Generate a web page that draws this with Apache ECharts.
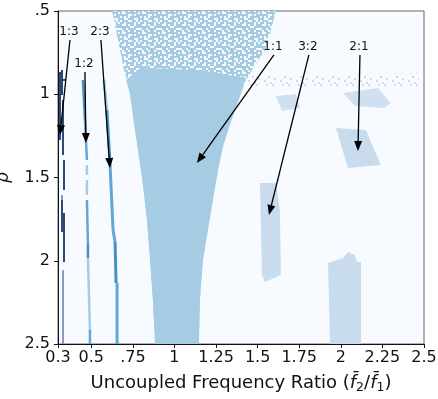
<!DOCTYPE html>
<html><head><meta charset="utf-8">
<script src="https://cdn.jsdelivr.net/npm/echarts@6/dist/echarts.min.js"></script>
<style>html,body{margin:0;padding:0;background:#fff}#c{width:438px;height:399px}</style>
</head><body><div id="c"></div>
<script>
// ---- axis ticks ----
const xTicks = [0.3, 0.5, 0.75, 1, 1.25, 1.5, 1.75, 2, 2.25, 2.5];
const xTickLabels = ['0.3', '0.5', '.75', '1', '1.25', '1.5', '1.75', '2', '2.25', '2.5'];
const yTicks = [0.5, 1, 1.5, 2, 2.5];
const yTickLabels = ['.5', '1', '1.5', '2', '2.5'];

// ---- regions [freq ratio, rho] ----
const tongueOuter = [[0.625,0.5],[0.661,0.674],[0.697,0.854],[0.733,0.998],[0.763,1.215],[0.805,1.497],[0.835,1.755],[0.853,1.995],[0.871,2.236],[0.883,2.5],
  [1.147,2.5],[1.153,2.236],[1.171,1.995],[1.201,1.815],[1.231,1.635],[1.262,1.455],[1.286,1.335],[1.322,1.215],[1.364,1.095],[1.424,0.926],[1.484,0.824],[1.544,0.734],[1.580,0.614],[1.610,0.5]];
const tongueSolid = [[0.709,0.914],[0.793,0.842],[1.153,0.854],[1.430,0.902],[1.364,1.095],[1.322,1.215],[1.286,1.335],[1.262,1.455],[1.231,1.635],[1.201,1.815],[1.171,1.995],[1.153,2.236],[1.147,2.5],
  [0.883,2.5],[0.871,2.236],[0.853,1.995],[0.835,1.755],[0.805,1.497],[0.763,1.215],[0.733,0.998]];
const resonanceBand = [[1.43,0.885],[2.47,0.875],[2.47,0.95],[1.43,0.96]];
const patch32 = [[1.514,1.533],[1.610,1.533],[1.634,1.695],[1.640,2.086],[1.544,2.128],[1.526,2.086],[1.520,1.815]];
const patch21 = [[1.971,1.203],[2.151,1.215],[2.241,1.425],[2.043,1.443]];
const patch21Upper = [[2.013,0.992],[2.223,0.962],[2.301,1.053],[2.259,1.083],[2.085,1.071]];
const patchSmall = [[1.610,1.011],[1.730,0.998],[1.754,1.083],[1.646,1.101]];
const patchBottom = [[1.923,2.014],[2.013,1.983],[2.043,1.947],[2.085,1.965],[2.097,2.008],[2.121,2.008],[2.121,2.5],[1.935,2.5]];

// ---- resonance line segments [x1, rho1, x2, rho2, shade] ----
const line13 = [[0.312,0.866,0.312,1.035,0],[0.324,0.854,0.324,1.005,0],[0.312,0.914,0.348,0.914,0],[0.312,1.035,0.312,1.275,0],
  [0.330,1.035,0.330,1.365,0],[0.336,1.395,0.336,1.575,0],[0.324,1.605,0.324,1.725,1],[0.324,1.635,0.324,1.827,0],
  [0.336,1.713,0.336,2.008,0],[0.330,2.056,0.330,2.5,1]];
const line12 = [[0.450,0.914,0.462,1.155,2],[0.462,1.155,0.474,1.395,3],[0.474,1.425,0.474,1.485,4],[0.474,1.515,0.474,1.605,4],
  [0.474,1.635,0.480,1.905,3],[0.480,1.905,0.480,1.983,2],[0.480,1.983,0.492,2.416,4],[0.492,2.416,0.492,2.5,3]];
const line23 = [[0.576,0.914,0.594,1.095,4],[0.594,1.095,0.613,1.425,2],[0.613,1.425,0.631,1.815,3],[0.631,1.815,0.643,1.887,3],
  [0.643,1.887,0.649,2.134,2],[0.655,2.134,0.655,2.5,3]];

// ---- annotations ----
const annLabels = ['1:3', '1:2', '2:3', '1:1', '3:2', '2:1'];
const annTextPos = [[0.366,0.626],[0.456,0.818],[0.552,0.626],[1.592,0.716],[1.802,0.716],[2.109,0.716]];
const annTipPos = [[0.312,1.245],[0.468,1.293],[0.612,1.443],[1.135,1.413],[1.568,1.725],[2.103,1.341]];

// ---- styling ----
const FONT = 'DejaVu Sans';
const shades = ['#2b4a7a', '#8a9cba', '#4a8fc4', '#62a6d3', '#a4cce4'];
const tongueColor = '#a6cce3';
const patchColor = '#c8dcee';
const bgColor = '#f7fbff';

function makePattern(mask, cell, fg, bg) {
  const rows = mask.length, cols = mask[0].length;
  const c = document.createElement('canvas');
  c.width = cols * cell; c.height = rows * cell;
  const g = c.getContext('2d');
  if (bg) { g.fillStyle = bg; g.fillRect(0, 0, c.width, c.height); }
  g.fillStyle = fg;
  for (let r = 0; r < rows; r++) for (let k = 0; k < cols; k++)
    if (mask[r][k] === '1') g.fillRect(k * cell, r * cell, cell, cell);
  return c;
}
const speckleCanvas = makePattern([
  '1000110010',
  '0010000101',
  '0110100100',
  '0000011000',
  '1001000011',
  '0100100100',
  '0110000001',
  '0000110100',
  '1010100000',
  '0011000110'], 2, bgColor, tongueColor);
const bandCanvas = makePattern(['10000100','00000000','00000010','01000000','00001000','00000001'], 2, '#cadcee', null);

const regionList = [
  {pts: tongueOuter, fill: {type: 'pattern', image: speckleCanvas, repeat: 'repeat'}},
  {pts: tongueSolid, fill: tongueColor},
  {pts: resonanceBand, fill: {type: 'pattern', image: bandCanvas, repeat: 'repeat'}},
  {pts: patch32, fill: patchColor},
  {pts: patch21, fill: patchColor},
  {pts: patch21Upper, fill: '#cfe0f0'},
  {pts: patchSmall, fill: '#cfe0f0'},
  {pts: patchBottom, fill: patchColor}
];

function lineSeries(data, width) {
  return {
    type: 'custom', clip: true, data: data, encode: {x: [0, 2], y: [1, 3]},
    renderItem: (params, api) => {
      const a = api.coord([api.value(0), api.value(1)]);
      const b = api.coord([api.value(2), api.value(3)]);
      return {type: 'line', shape: {x1: a[0], y1: a[1], x2: b[0], y2: b[1]},
        style: {stroke: shades[api.value(4)], lineWidth: width}};
    }
  };
}

const chart = echarts.init(document.getElementById('c'), null, {renderer: 'canvas'});
chart.setOption({
  animation: false,
  grid: {left: 58, right: 14, top: 11, bottom: 55, show: true, backgroundColor: bgColor, borderColor: '#666', borderWidth: 1,
    containLabel: false, outerBoundsMode: 'none'},
  xAxis: {
    type: 'value', min: 0.3, max: 2.5,
    name: 'Uncoupled Frequency Ratio ({i|f\u0304}{s|2}/{i|f\u0304}{s|1})',
    nameLocation: 'middle', nameGap: 28,
    nameTextStyle: {fontFamily: FONT, fontSize: 18, color: '#111',
      rich: {i: {fontFamily: FONT, fontSize: 18, fontStyle: 'italic', color: '#111'},
             s: {fontFamily: FONT, fontSize: 12.5, color: '#111', padding: [9, 0, 0, 0]}}},
    axisLine: {show: true, onZero: false, lineStyle: {color: '#111', width: 1}},
    axisTick: {show: true, inside: false, length: 4, customValues: xTicks, lineStyle: {color: '#111'}},
    axisLabel: {customValues: xTicks, margin: 6, fontFamily: FONT, fontSize: 16, color: '#111', hideOverlap: false,
      formatter: v => { const i = xTicks.findIndex(t => Math.abs(t - v) < 1e-6); return i >= 0 ? xTickLabels[i] : ''; }},
    splitLine: {show: false}
  },
  yAxis: {
    type: 'value', min: 0.5, max: 2.5, interval: 0.5, inverse: true,
    name: '\u03c1', nameLocation: 'middle', nameGap: 46, nameRotate: 90,
    nameTextStyle: {fontFamily: FONT, fontSize: 17, fontStyle: 'italic', color: '#111'},
    axisLine: {show: true, onZero: false, lineStyle: {color: '#111', width: 1}},
    axisTick: {show: true, inside: false, length: 4, customValues: yTicks, lineStyle: {color: '#111'}},
    axisLabel: {customValues: yTicks, margin: 8, fontFamily: FONT, fontSize: 16, color: '#111',
      formatter: v => { const i = yTicks.findIndex(t => Math.abs(t - v) < 1e-6); return i >= 0 ? yTickLabels[i] : ''; }},
    splitLine: {show: false}
  },
  series: [
    {
      type: 'custom', clip: true,
      data: regionList.map((r, i) => [r.pts[0][0], r.pts[0][1], i]),
      encode: {x: 0, y: 1},
      renderItem: (params, api) => {
        const r = regionList[api.value(2)];
        return {type: 'polygon', shape: {points: r.pts.map(p => api.coord(p))}, style: {fill: r.fill}};
      }
    },
    lineSeries(line13, 2),
    lineSeries(line12, 2.5),
    lineSeries(line23, 3),
    {
      type: 'custom', clip: false,
      data: annLabels.map((l, i) => [annTextPos[i][0], annTextPos[i][1], annTipPos[i][0], annTipPos[i][1], i]),
      encode: {x: 0, y: 1},
      renderItem: (params, api) => {
        const t = api.coord([api.value(0), api.value(1)]);
        const tip = api.coord([api.value(2), api.value(3)]);
        const s = [t[0] + 1, t[1] + 8];
        const dx = tip[0] - s[0], dy = tip[1] - s[1];
        const len = Math.sqrt(dx * dx + dy * dy);
        const ux = dx / len, uy = dy / len;
        const hl = 10, hw = 4;
        const bx = tip[0] - ux * hl, by = tip[1] - uy * hl;
        return {type: 'group', children: [
          {type: 'line', shape: {x1: s[0], y1: s[1], x2: bx, y2: by}, style: {stroke: '#000', lineWidth: 1.3}},
          {type: 'polygon', shape: {points: [tip, [bx - uy * hw, by + ux * hw], [bx + uy * hw, by - ux * hw]]}, style: {fill: '#000'}},
          {type: 'text', x: t[0], y: t[1], style: {text: annLabels[api.value(4)], fontFamily: FONT, fontSize: 12, fill: '#111', align: 'center', verticalAlign: 'middle'}}
        ]};
      }
    }
  ]
});
</script></body></html>
